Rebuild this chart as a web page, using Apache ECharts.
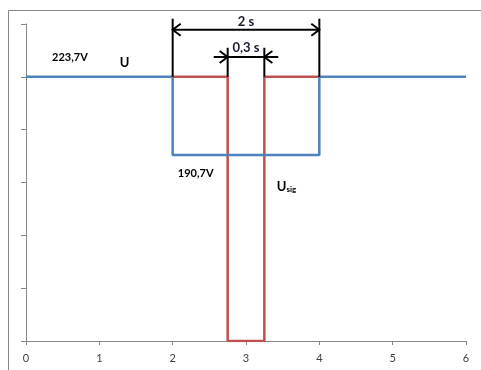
<!DOCTYPE html>
<html>
<head>
<meta charset="utf-8">
<script src="https://cdn.jsdelivr.net/npm/echarts@6/dist/echarts.min.js"></script>
<style>
html,body{margin:0;padding:0;background:#fff;}
#c{width:481px;height:370px;}
</style>
</head>
<body>
<div id="c"></div>
<script>
// ---- data ----
const xTicks = [0, 1, 2, 3, 4, 5, 6];
const uTime  = [0, 2, 2, 4, 4, 6];
const uLevel = [5, 5, 3.52, 3.52, 5, 5];
const sigTime  = [2, 2.75, 2.75, 3.25, 3.25, 4];
const sigLevel = [5, 5, 0, 0, 5, 5];
// dimension annotations: [start, end, arrowLevel, extTop, inward(0/1), textLevel]
const dimStart = [2, 2.75];
const dimEnd   = [4, 3.25];
const dimLevel = [5.89, 5.375];
const dimTop   = [6.1, 5.55];
const dimInward = [0, 1];
const dimText  = ['2 s', '0,3 s'];
const dimTextLevel = [6.04, 5.54];
// text labels
const labelX = [0.355, 1.28, 2.07, 3.42];
const labelY = [5.376, 5.26, 3.18, 2.92];
const labelText = ['{n|223,7V}', '{b|U}', '{n|190,7V}', '{b|U}{s|sig}'];

const FONT = 'Lato, "Open Sans", sans-serif';
const chart = echarts.init(document.getElementById('c'));

const uData = uTime.map((t, i) => [t, uLevel[i]]);
const sigData = sigTime.map((t, i) => [t, sigLevel[i]]);
const dimData = dimStart.map((s, i) => [s, dimEnd[i], dimLevel[i], dimTop[i], dimInward[i], dimTextLevel[i], i]);
const labData = labelX.map((x, i) => [x, labelY[i], i]);

function chevron(tip, dir) {
  const L = 8, H = 6;
  return {
    type: 'polyline',
    shape: { points: [[tip[0] - dir * L, tip[1] - H], tip, [tip[0] - dir * L, tip[1] + H]] },
    style: { stroke: '#000', lineWidth: 2, fill: null }
  };
}

chart.setOption({
  animation: false,
  backgroundColor: '#fff',
  graphic: [{
    type: 'rect', left: 8, top: 10, z: -10,
    shape: { width: 520, height: 420 },
    style: { fill: '#fff', stroke: '#868686', lineWidth: 1 }
  }],
  grid: { left: 26, right: 15, top: 24, bottom: 29 },
  xAxis: {
    type: 'value', min: 0, max: 6, interval: 1,
    axisLine: { lineStyle: { color: '#868686', width: 1 } },
    axisTick: { show: true, length: 4, lineStyle: { color: '#868686' } },
    axisLabel: {
      color: '#404040', fontFamily: FONT, fontSize: 11, margin: 12,
      formatter: v => xTicks.includes(v) ? String(v) : ''
    },
    splitLine: { show: false }
  },
  yAxis: {
    type: 'value', min: 0, max: 6, interval: 1,
    axisLine: { show: true, lineStyle: { color: '#868686', width: 1 } },
    axisTick: { show: true, length: 5, lineStyle: { color: '#868686' } },
    axisLabel: { show: false },
    splitLine: { show: false }
  },
  series: [
    {
      name: 'Usig', type: 'line', data: sigData, symbol: 'none',
      lineStyle: { color: '#C0504D', width: 2.5 }, z: 2
    },
    {
      name: 'U', type: 'line', data: uData, symbol: 'none',
      lineStyle: { color: '#4F81BD', width: 2.5 }, z: 3
    },
    {
      type: 'custom', data: dimData, z: 5, clip: false,
      renderItem(params, api) {
        const x1 = api.value(0), x2 = api.value(1), ya = api.value(2), yt = api.value(3);
        const inward = api.value(4), yText = api.value(5), idx = api.value(6);
        const b1 = api.coord([x1, 5]), t1 = api.coord([x1, yt]);
        const b2 = api.coord([x2, 5]), t2 = api.coord([x2, yt]);
        const a1 = api.coord([x1, ya]), a2 = api.coord([x2, ya]);
        const ln = (p, q) => ({ type: 'line', shape: { x1: p[0], y1: p[1], x2: q[0], y2: q[1] }, style: { stroke: '#000', lineWidth: 2 } });
        const children = [ln(b1, t1), ln(b2, t2)];
        if (inward) {
          const o1 = api.coord([x1 - 0.19, ya]), o2 = api.coord([x2 + 0.19, ya]);
          children.push(ln(o1, o2), chevron(a1, 1), chevron(a2, -1));
        } else {
          children.push(ln(a1, a2), chevron(a1, -1), chevron(a2, 1));
        }
        const tp = api.coord([(x1 + x2) / 2, yText]);
        children.push({
          type: 'text',
          style: {
            text: dimText[idx], x: tp[0], y: tp[1], align: 'center', verticalAlign: 'middle',
            fill: '#1a1a2e', font: 'bold 13px ' + FONT
          }
        });
        return { type: 'group', children };
      }
    },
    {
      type: 'custom', data: labData, z: 6, clip: false,
      renderItem(params, api) {
        const p = api.coord([api.value(0), api.value(1)]);
        const idx = api.value(2);
        return {
          type: 'text',
          style: {
            text: labelText[idx], x: p[0], y: p[1], align: 'left', verticalAlign: 'middle',
            rich: {
              n: { fontFamily: FONT, fontSize: 11, fontWeight: 'bold', color: '#595959' },
              b: { fontFamily: FONT, fontSize: 13, fontWeight: 'bold', color: '#262626' },
              s: { fontFamily: FONT, fontSize: 8, fontWeight: 'bold', color: '#262626', verticalAlign: 'bottom', padding: [6, 0, 0, 0] }
            }
          }
        };
      }
    }
  ]
});
</script>
</body>
</html>
